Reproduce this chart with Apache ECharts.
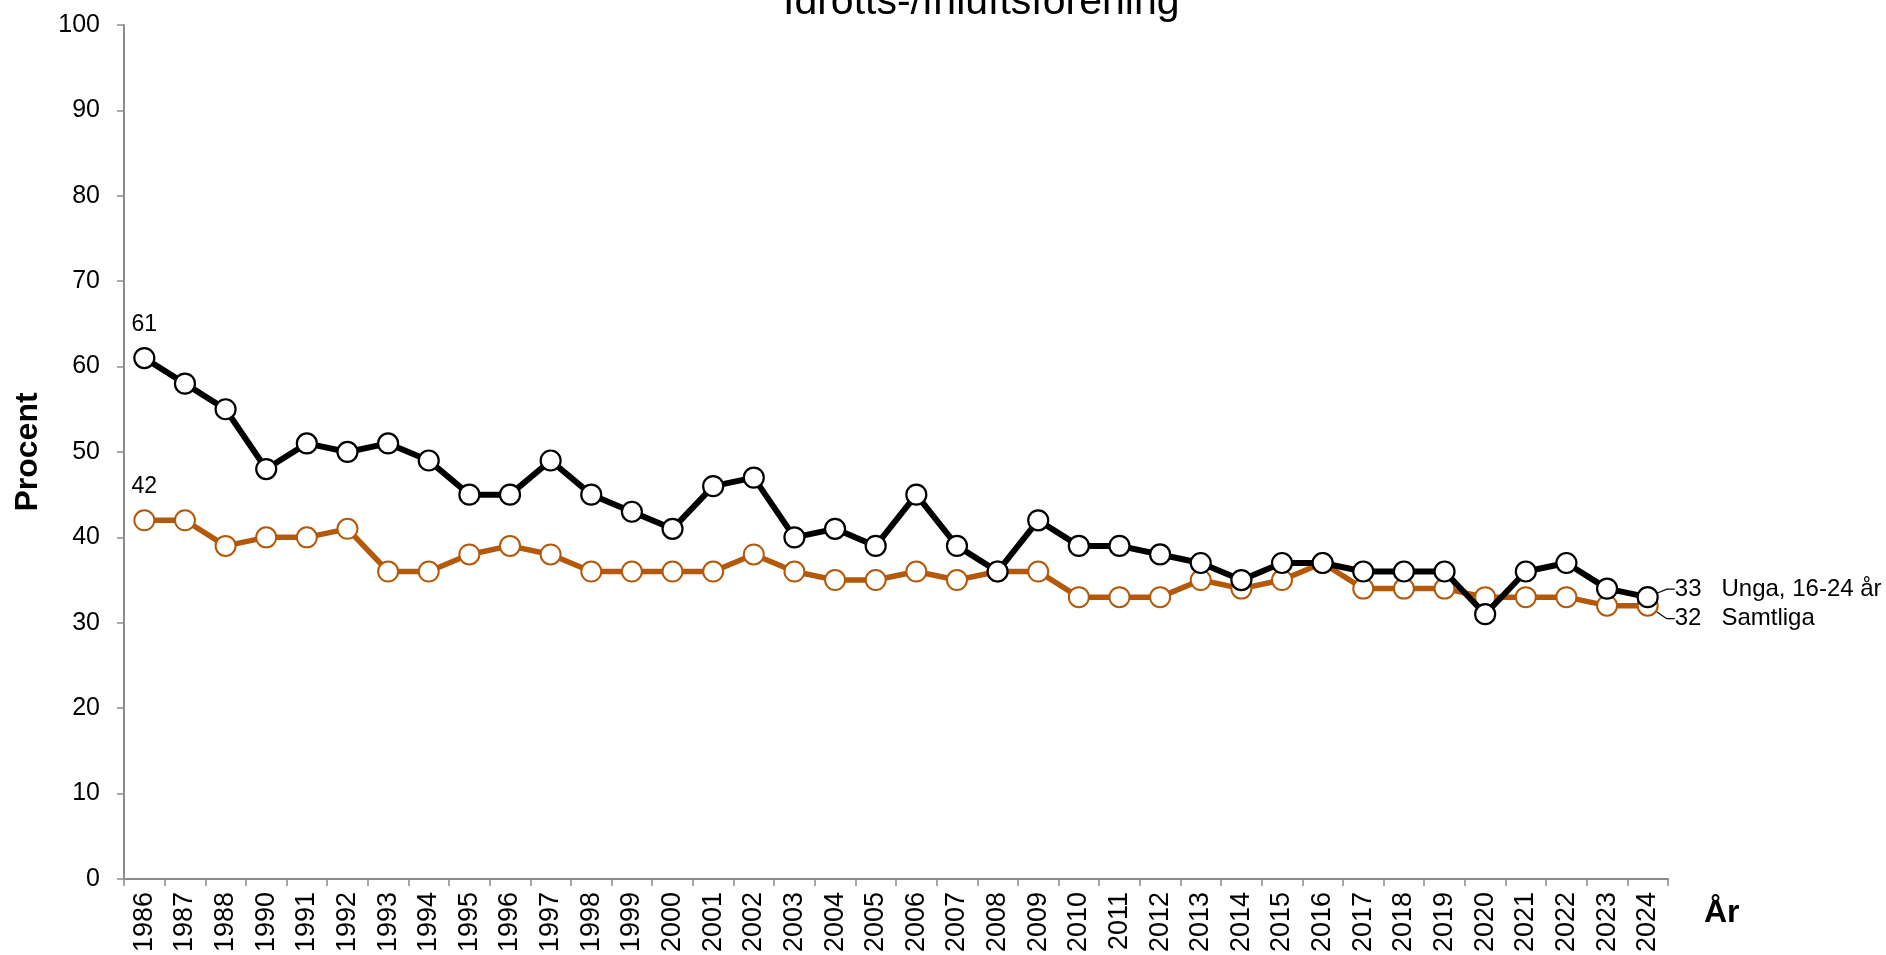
<!DOCTYPE html>
<html>
<head>
<meta charset="utf-8">
<title>Idrotts-/friluftsförening</title>
<script src="https://cdn.jsdelivr.net/npm/echarts@6/dist/echarts.min.js"></script>
<style>
    html, body { margin: 0; padding: 0; background: #fff; }
    #chart_1 { width: 1886px; height: 955px; }
</style>
</head>
<body>
<div id="chart_1"></div>
<script>
// årtal (1989 saknas i serien)
var years = ['1986', '1987', '1988', '1990', '1991', '1992', '1993', '1994', '1995', '1996',
    '1997', '1998', '1999', '2000', '2001', '2002', '2003', '2004', '2005', '2006',
    '2007', '2008', '2009', '2010', '2011', '2012', '2013', '2014', '2015', '2016',
    '2017', '2018', '2019', '2020', '2021', '2022', '2023', '2024'];

// Unga, 16-24 år
var unga = [61, 58, 55, 48, 51, 50, 51, 49, 45, 45,
    49, 45, 43, 41, 46, 47, 40, 41, 39, 45,
    39, 36, 42, 39, 39, 38, 37, 35, 37, 37,
    36, 36, 36, 31, 36, 37, 34, 33];

// Samtliga
var samtliga = [42, 42, 39, 40, 40, 41, 36, 36, 38, 39,
    38, 36, 36, 36, 36, 38, 36, 35, 35, 36,
    35, 36, 36, 33, 33, 33, 35, 34, 35, 37,
    34, 34, 34, 33, 33, 33, 32, 32];

var seriesNames = ['Unga, 16-24 år', 'Samtliga'];
var titleText = 'Idrotts-/friluftsförening';

var FONT = 'Liberation Sans, Arial, sans-serif';
var ORANGE = '#b4580a';

// första punkten får värdet ovanför, sista får värde + namn till höger
function buildData(values, name) {
    var last = values.length - 1;
    return values.map(function (v, i) {
        if (i === 0) {
            return {
                value: v,
                label: {show: true, position: 'top', distance: 11, fontSize: 23, color: '#000', fontFamily: FONT}
            };
        }
        if (i === last) {
            return {
                value: v,
                label: {
                    show: true,
                    position: 'right',
                    distance: 4,
                    fontSize: 24,
                    color: '#000',
                    fontFamily: FONT,
                    formatter: v + '   ' + name
                },
                labelLine: {show: true, length2: 8, lineStyle: {color: '#000', width: 1.2}}
            };
        }
        return v;
    });
}

var myChart = echarts.init(document.getElementById('chart_1'));

var option = {
    backgroundColor: '#fff',
    animation: false,
    title: {
        text: titleText,
        left: 778,
        top: -23,
        textStyle: {fontSize: 41, fontWeight: 'normal', color: '#000', fontFamily: FONT}
    },
    grid: {left: 124, right: 218, top: 25, bottom: 75},
    xAxis: {
        type: 'category',
        data: years,
        boundaryGap: true,
        name: 'År',
        nameLocation: 'end',
        nameGap: 36,
        nameTextStyle: {fontSize: 32, fontWeight: 'bold', color: '#000', fontFamily: FONT,
            verticalAlign: 'top', padding: [18, 0, 0, 0]},
        axisLine: {lineStyle: {color: '#8c8c8c', width: 2}},
        axisTick: {show: true, interval: 0, length: 7, lineStyle: {color: '#8c8c8c', width: 1.5}},
        axisLabel: {interval: 0, rotate: 90, fontSize: 27, color: '#000', margin: 13, fontFamily: FONT},
        splitLine: {show: false}
    },
    yAxis: {
        type: 'value',
        min: 0,
        max: 100,
        interval: 10,
        name: 'Procent',
        nameLocation: 'middle',
        nameGap: 80,
        nameRotate: 90,
        nameTextStyle: {fontSize: 32, fontWeight: 'bold', color: '#000', fontFamily: FONT},
        axisLine: {show: true, lineStyle: {color: '#8c8c8c', width: 2}},
        axisTick: {show: true, length: 7, lineStyle: {color: '#8c8c8c', width: 1.5}},
        axisLabel: {fontSize: 25, color: '#000', margin: 24, fontFamily: FONT},
        splitLine: {show: false}
    },
    series: [
        {
            name: seriesNames[0],
            type: 'line',
            data: buildData(unga, seriesNames[0]),
            symbol: 'circle',
            symbolSize: 20,
            lineStyle: {color: '#000', width: 6},
            itemStyle: {color: '#fff', borderColor: '#000', borderWidth: 2.2},
            labelLayout: function (params) {
                if (params.dataIndex === unga.length - 1) {
                    return {dx: 12, dy: -8};
                }
            },
            z: 3
        },
        {
            name: seriesNames[1],
            type: 'line',
            data: buildData(samtliga, seriesNames[1]),
            symbol: 'circle',
            symbolSize: 20,
            lineStyle: {color: ORANGE, width: 5.5},
            itemStyle: {color: '#fff', borderColor: ORANGE, borderWidth: 2},
            labelLayout: function (params) {
                if (params.dataIndex === samtliga.length - 1) {
                    return {dx: 12, dy: 13};
                }
            },
            z: 2
        }
    ]
};

myChart.setOption(option);
window.addEventListener('resize', function () {
    myChart.resize();
});
</script>
</body>
</html>
